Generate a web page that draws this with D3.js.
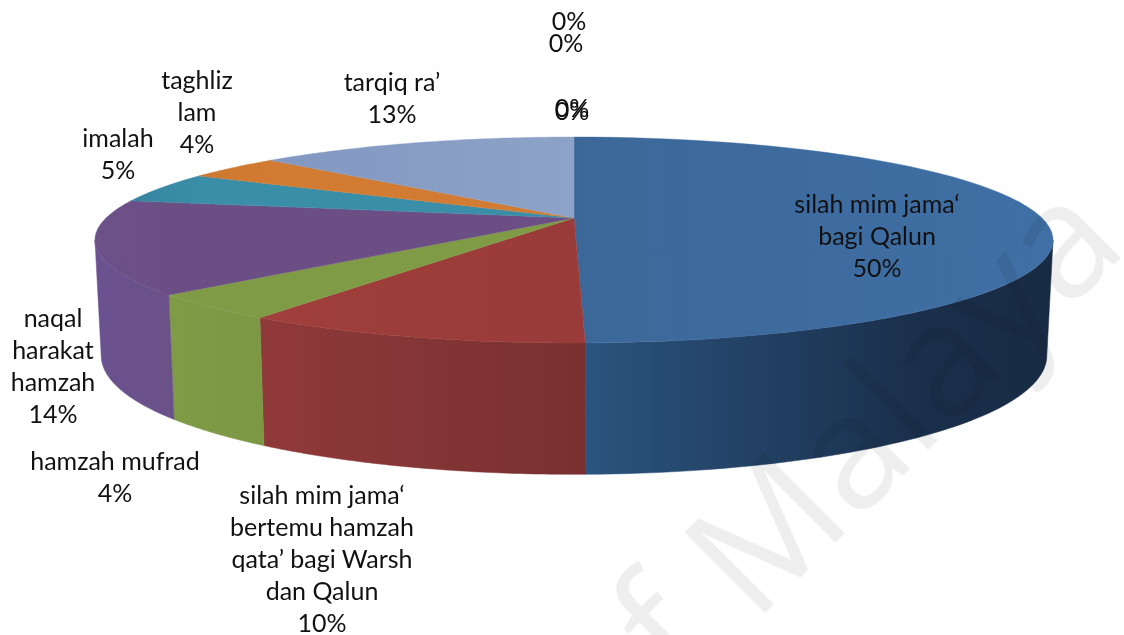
<!DOCTYPE html>
<html><head><meta charset="utf-8">
<script src="https://cdn.jsdelivr.net/npm/d3@7"></script>
<style>html,body{margin:0;background:#fff}svg{display:block}</style></head>
<body><svg id="c" width="1124" height="635"></svg>
<script>
const categories = ["silah mim jama‘ bagi Qalun","silah mim jama‘ bertemu hamzah qata’ bagi Warsh dan Qalun","hamzah mufrad","naqal harakat hamzah","imalah","taghliz lam","tarqiq ra’","zero a","zero b","zero c","zero d"];
const values = [49.7,9.6,4.0,14.6,4.9,3.9,13.3,0,0,0,0];
const percentLabels = ["50%","10%","4%","14%","5%","4%","13%","0%","0%","0%","0%"];
const labelLines = [["silah mim jama‘","bagi Qalun"],["silah mim jama‘","bertemu hamzah","qata’ bagi Warsh","dan Qalun"],["hamzah mufrad"],["naqal","harakat","hamzah"],["imalah"],["taghliz","lam"],["tarqiq ra’"],[],[],[],[]];
const topLeft  = ["#3c6899","#a03f3b","#7f9b46","#6c5189","#35849f","#cc7830","#8298c2","#888","#888","#888","#888"];
const topRight = ["#3f6fa5","#993b39","#7f9b46","#6b4e84","#3b8ea8","#d27b32","#8ca2c6","#888","#888","#888","#888"];
const wallLeft = ["#2b5580","#90393a","#7f9b46","#6a5190","#35849f","#cc7830","#8298c2","#888","#888","#888","#888"];
const wallRight= ["#182b44","#783130","#7c9845","#6a5288","#35849f","#cc7830","#8298c2","#888","#888","#888","#888"];
// label anchors (centre x, centre y of first line), one per category
const labelAnchor = [[877,204],[322,495],[115,461],[53,318],[118,138],[197,80],[392,82],[569,21],[566,43],[572,108],[572,111]];

const cx=574, cy=218, R=468, k=0.2136, h=98.3;
const svg=d3.select("#c");
const defs=svg.append("defs");
const pie=d3.pie().sort(null).value(d=>d).startAngle(0).endAngle(2*Math.PI);
const arcs=pie(values);
function topPt(t){const u=Math.sin(t),v=-Math.cos(t),s=1/(1-k*v);return [cx+R*u*s,cy+h*v*s];}
function botPt(t){const u=Math.sin(t),v=-Math.cos(t),s=1/(1-k*v);
  return [cx+0.987*R*u*s, cy+h*v*s+8+97*s+6*u*u];}
const line=d3.line();
const sample=(a,b)=>d3.range(0,61).map(i=>a+(b-a)*i/60);
// the wall is only visible between the two silhouette angles of the projected disc
const frontA=Math.acos(-k), frontB=2*Math.PI-frontA;

arcs.forEach((a,i)=>{ if(a.endAngle-a.startAngle<1e-6) return;
  const pts=sample(a.startAngle,a.endAngle);
  const xs=pts.map(t=>topPt(t)[0]); const x0=d3.min(xs),x1=d3.max(xs);
  const g1=defs.append("linearGradient").attr("id","t"+i).attr("gradientUnits","userSpaceOnUse").attr("x1",x0).attr("x2",x1).attr("y1",0).attr("y2",0);
  g1.append("stop").attr("offset",0).attr("stop-color",topLeft[i]);
  g1.append("stop").attr("offset",1).attr("stop-color",topRight[i]);
  const g2=defs.append("linearGradient").attr("id","w"+i).attr("gradientUnits","userSpaceOnUse").attr("x1",x0).attr("x2",x1).attr("y1",0).attr("y2",0);
  g2.append("stop").attr("offset",0).attr("stop-color",wallLeft[i]);
  if(i===0) g2.append("stop").attr("offset",0.72).attr("stop-color","#1a2f4b");
  g2.append("stop").attr("offset",1).attr("stop-color",wallRight[i]);
});
// outer walls
const gw=svg.append("g");
arcs.forEach((a,i)=>{
  const s0=Math.max(a.startAngle,frontA), s1=Math.min(a.endAngle,frontB);
  if(s1-s0<1e-6) return;
  const pts=sample(s0,s1);
  const poly=pts.map(topPt).concat(pts.slice().reverse().map(botPt));
  gw.append("path").attr("d",line(poly)+"Z").attr("fill",`url(#w${i})`).attr("stroke",`url(#w${i})`).attr("stroke-width",0.5);
});
// top faces
const gt=svg.append("g");
arcs.forEach((a,i)=>{ if(a.endAngle-a.startAngle<1e-6) return;
  const pts=sample(a.startAngle,a.endAngle);
  const poly=[[cx,cy]].concat(pts.map(topPt));
  gt.append("path").attr("d",line(poly)+"Z").attr("fill",`url(#t${i})`).attr("stroke",`url(#t${i})`).attr("stroke-width",0.4);
});
// watermark
const wm=svg.append("g").attr("font-family","'Open Sans'").attr("font-size",160).attr("fill","#eeeeee").style("mix-blend-mode","multiply");
wm.append("text").attr("transform","translate(754,624) rotate(-45)").text("Malaya");
wm.append("text").attr("transform","translate(680,688) rotate(-45)").text("f");
// labels
const gl=svg.append("g").attr("font-family","Lato").attr("font-size",25).attr("fill","#111").attr("text-anchor","middle");
arcs.forEach((a,i)=>{
  const lines=labelLines[i].concat([percentLabels[i]]);
  lines.forEach((s,j)=>{
    gl.append("text").attr("x",labelAnchor[i][0]).attr("y",labelAnchor[i][1]+j*32.1+8.5).text(s);
  });
});
</script></body></html>
